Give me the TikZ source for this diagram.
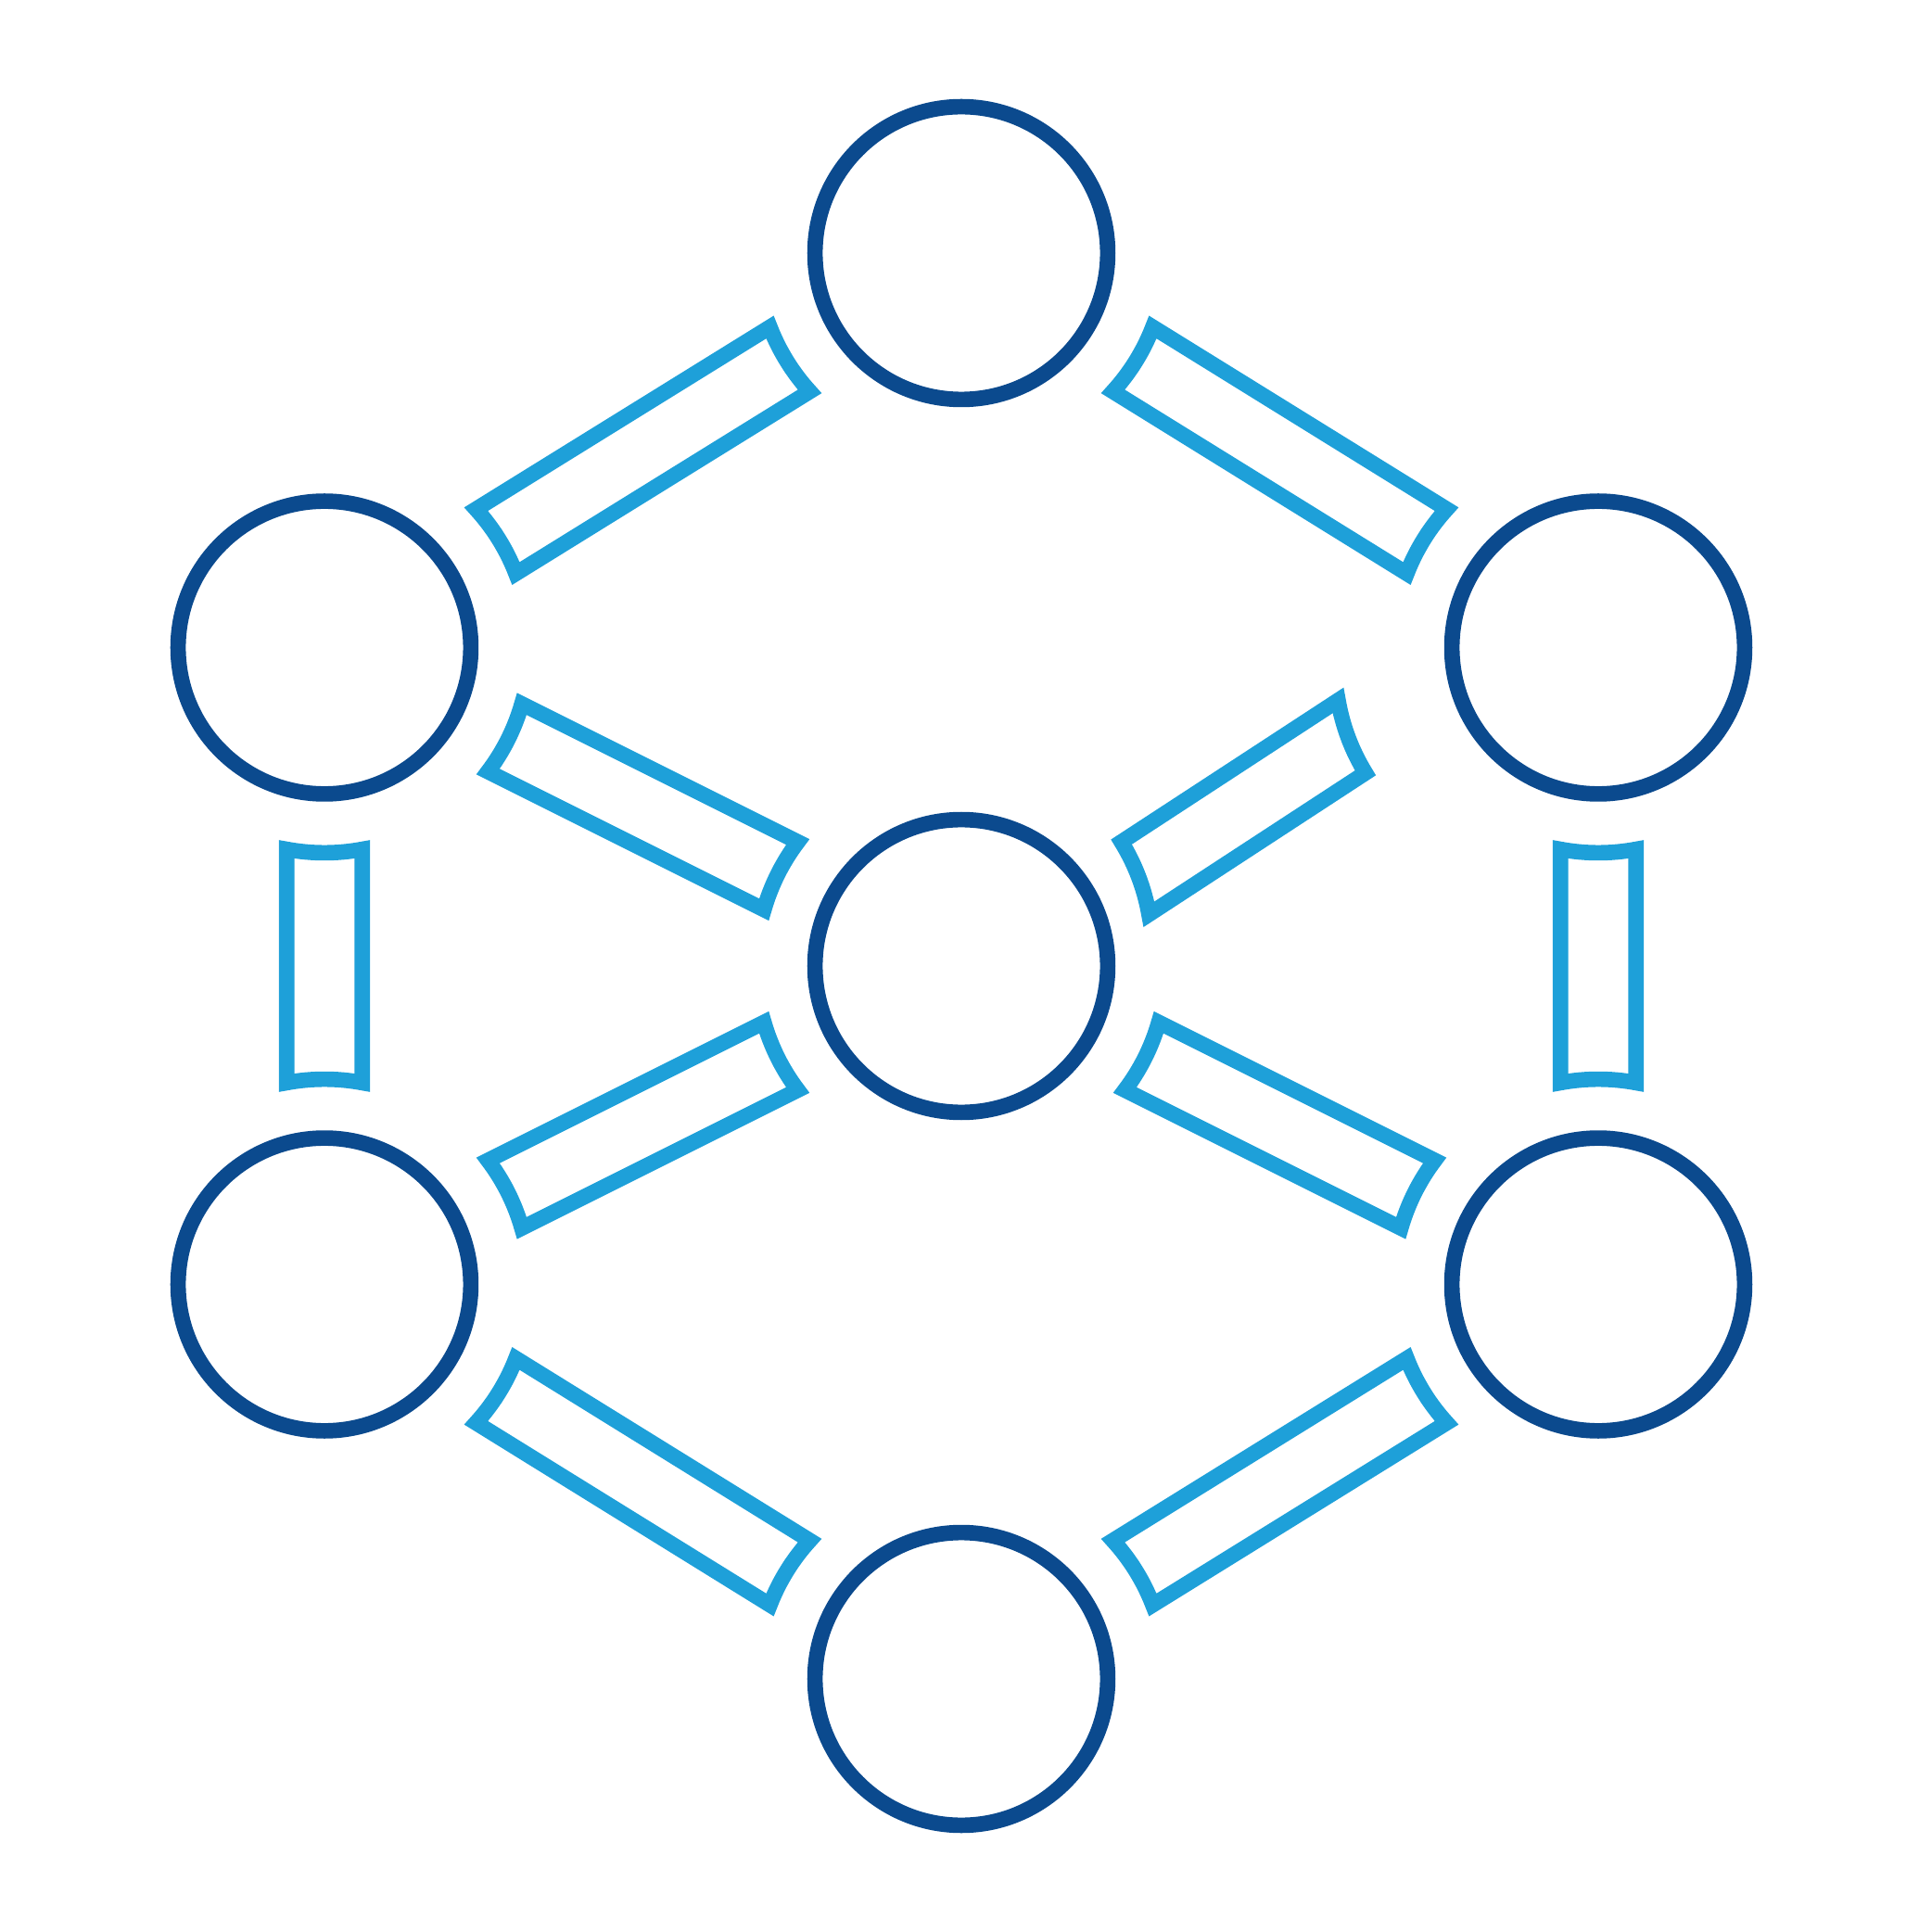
\documentclass[tikz,border=0pt]{standalone}
\usepackage{tikz}
\usetikzlibrary{calc}
\definecolor{hubblue}{RGB}{11,74,142}
\definecolor{linkblue}{RGB}{30,160,217}
\tikzset{main node/.style={circle,draw=hubblue,line width=1.67mm,minimum size=31.58mm,inner sep=0pt},
         link/.style={draw=linkblue,line width=1.67mm,line join=miter},
}
\newcommand{\linkR}{2.214cm}
\newcommand{\linkA}{10.62}
% bar between two centres, ends hollowed on a circle round each centre
\newcommand{\link}[2]{%
  \draw[link] let \p1=($(#2)-(#1)$), \n1={atan2(\y1,\x1)} in
    ($(#1)+(\n1+\linkA:\linkR)$) -- ($(#2)+(\n1+180-\linkA:\linkR)$)
    arc[start angle=\n1+180-\linkA, end angle=\n1+180+\linkA, radius=\linkR]
    -- ($(#1)+(\n1-\linkA:\linkR)$)
    arc[start angle=\n1-\linkA, end angle=\n1+\linkA, radius=\linkR] -- cycle;}

\begin{document}
\begin{tikzpicture}
\useasboundingbox (-10.37,-10.42) rectangle (10.47,10.42);
% \draw[help lines] (-10,-10) grid (10,10);

\node[main node] (top) at (0,7.69) {};
\node[main node] (ul) at (-6.87,3.435) {};
\node[main node] (ur) at (6.87,3.435) {};
\node[main node] (hub) at (0,0) {};
\node[main node] (ll) at (-6.87,-3.435) {};
\node[main node] (lr) at (6.87,-3.435) {};
\node[main node] (bot) at (0,-7.69) {};

\link{top}{ul}
\link{top}{ur}
\link{ul}{hub}
\link{ul}{ll}
\link{ur}{lr}
\link{ll}{hub}
\link{lr}{hub}
\link{ll}{bot}
\link{lr}{bot}

% the skewed one between hub and ur
\coordinate (c1) at (-0.157,0.174);
\coordinate (c2) at (6.246,3.24);
\draw[link] ($(c1)+(31.72:\linkR)$) -- ($(c2)+(189.75:\linkR)$)
    arc[start angle=189.75, end angle=211.51, radius=\linkR]
    -- ($(c1)+(9.98:\linkR)$)
    arc[start angle=9.98, end angle=31.72, radius=\linkR] -- cycle;
\end{tikzpicture}
\end{document}
